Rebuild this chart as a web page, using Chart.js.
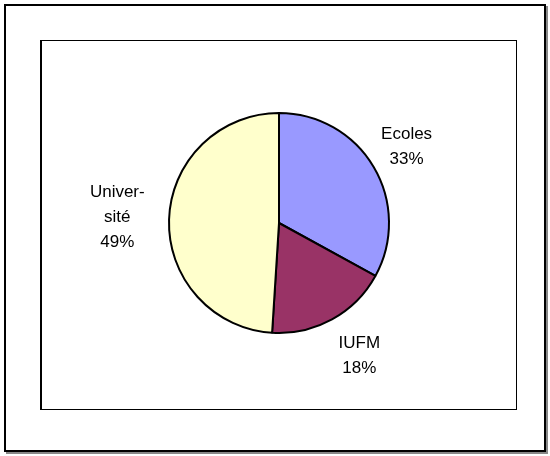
<!DOCTYPE html>
<html>
<head>
<meta charset="utf-8">
<script src="https://cdn.jsdelivr.net/npm/chart.js@4/dist/chart.umd.min.js"></script>
<style>
  html, body { margin: 0; padding: 0; background: #fff; }
  .frame {
    position: absolute; left: 4px; top: 4px; width: 538px; height: 444px;
    border: 2px solid #000; box-shadow: 2px 2px 0 #888;
  }
  .plot {
    position: absolute; left: 40px; top: 40px; width: 474px; height: 368px;
    border: 1px solid #000; border-left-width: 2px; background: #fff;
  }
  canvas { display: block; }
</style>
</head>
<body>
<div class="frame"></div>
<div class="plot"><canvas id="pie" width="474" height="368"></canvas></div>
<script>
// Répartition des formations
const labels = ['Ecoles', 'IUFM', 'Université'];
const labelLines = [['Ecoles'], ['IUFM'], ['Univer-', 'sité']];
const values = [33, 18, 49];
const colors = ['#9999FF', '#993366', '#FFFFCC'];

// label anchor per slice, in units of the radius from the pie centre
const labelOffsets = [[1.16, -0.69], [0.73, 1.21], [-1.47, -0.05]];

const outsideLabels = {
  id: 'outsideLabels',
  afterDatasetsDraw(chart) {
    const ctx = chart.ctx;
    const meta = chart.getDatasetMeta(0);
    const total = values.reduce((a, b) => a + b, 0);
    ctx.save();
    ctx.fillStyle = '#000';
    ctx.font = '17px "Liberation Sans", Arial, sans-serif';
    ctx.textAlign = 'center';
    ctx.textBaseline = 'middle';
    meta.data.forEach((arc, i) => {
      const r = arc.outerRadius;
      const x = arc.x + labelOffsets[i][0] * r;
      const y = arc.y + labelOffsets[i][1] * r;
      const lines = labelLines[i].concat([Math.round(values[i] / total * 100) + '%']);
      const lh = 25;
      const y0 = y - (lines.length - 1) * lh / 2;
      lines.forEach((t, k) => ctx.fillText(t, x, y0 + k * lh));
    });
    ctx.restore();
  }
};

new Chart(document.getElementById('pie'), {
  type: 'pie',
  data: {
    labels,
    datasets: [{
      data: values,
      backgroundColor: colors,
      borderColor: '#000',
      borderWidth: 2
    }]
  },
  options: {
    responsive: false,
    animation: false,
    rotation: 0,
    layout: { padding: { left: 126, right: 126, top: 71, bottom: 75 } },
    plugins: {
      legend: { display: false },
      tooltip: { enabled: false }
    }
  },
  plugins: [outsideLabels]
});
</script>
</body>
</html>
